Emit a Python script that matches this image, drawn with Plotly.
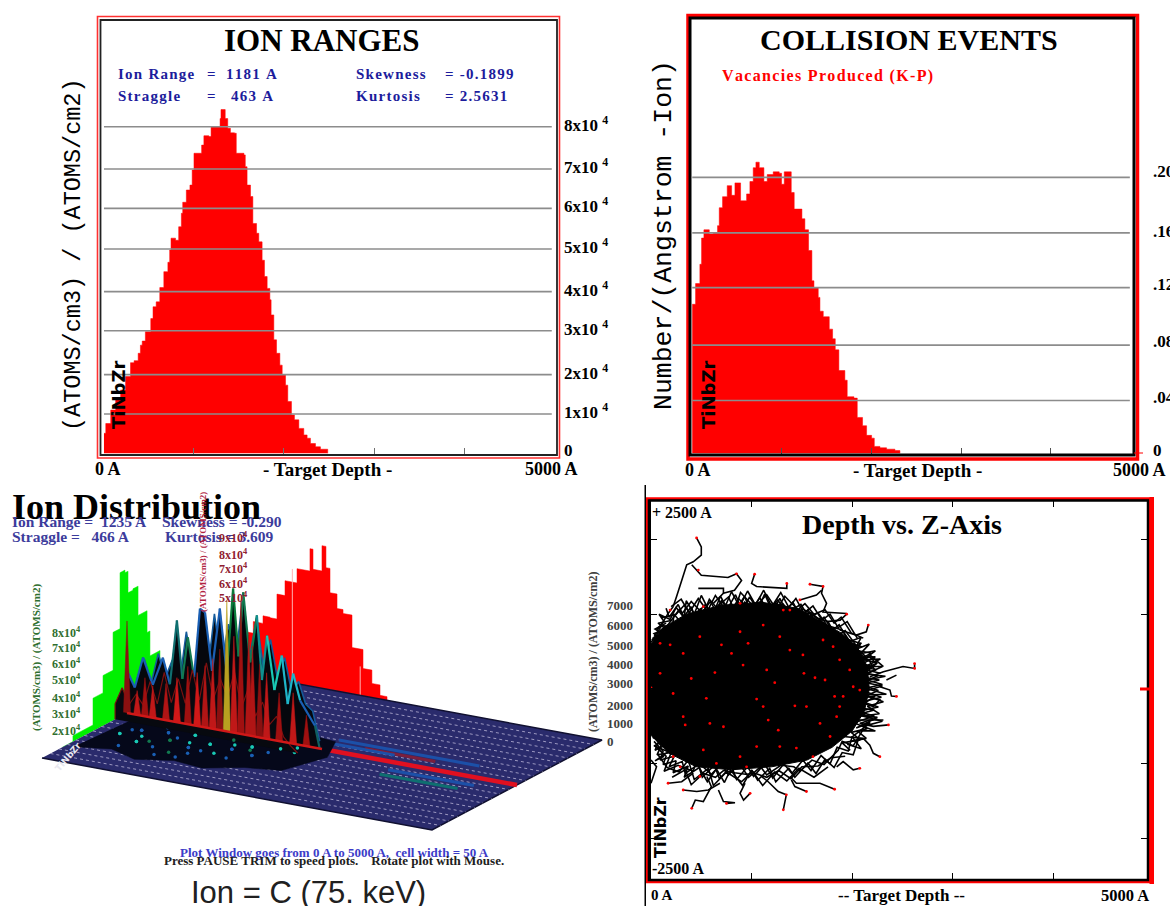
import plotly.graph_objects as go

W, H = 1170, 906
SERIF = "Liberation Serif"

# ---------- panel 1: ion ranges ----------
ion_depth = [0,20,75,130,185,240,295,335,380,405,425,460,520,545,580,620,665,710,730,745,795,830,860,875,915,955,980,1000,1085,1110,1165,1190,1290,1300,1347,1375,1405,1450,1470,1555,1570,1590,1628,1654,1695,1720,1757,1783,1813,1843,1857,1887,1917,1954,1980,2017,2042,2083,2116,2165,2220,2257,2294,2350,2405,2486]
ion_value = [0.49,0.73,1.06,1.35,1.55,1.88,2.22,2.27,2.45,2.65,2.75,2.98,3.3,3.59,3.71,4.06,4.45,4.68,4.98,5.27,5.22,5.55,5.88,6.15,6.45,6.57,6.94,7.35,7.55,7.78,7.76,8.0,8.2,8.42,8.2,7.96,7.85,7.84,7.35,7.31,7.02,6.57,6.29,5.63,5.39,5.18,4.73,4.33,4.04,3.76,3.39,2.78,2.45,2.16,1.92,1.67,1.27,0.94,0.82,0.61,0.45,0.37,0.24,0.16,0.1,0]
ion_grid = [0.963,1.927,3.004,3.96,5.004,6.0,6.963,8.0]
ion_labels = ["1x10", "2x10", "3x10", "4x10", "5x10", "6x10", "7x10", "8x10"]
depth_ticks = [1000, 2000, 3000, 4000]

# ---------- panel 2: collision events ----------
vac_depth = [0,37,85,104,130,190,234,282,301,338,390,439,476,539,606,643,680,710,747,799,836,903,970,996,1026,1104,1137,1223,1256,1297,1334,1357,1405,1424,1461,1528,1565,1595,1635,1702,1728,1803,1840,1899,1944,2000,2030,2093,2167,2260,2316]
vac_value = [.108,.123,.137,.156,.162,.159,.160,.165,.178,.186,.194,.187,.196,.183,.188,.197,.207,.211,.207,.197,.202,.204,.203,.195,.204,.189,.177,.170,.162,.147,.125,.12,.113,.103,.099,.09,.083,.075,.060,.053,.041,.040,.026,.020,.013,.011,.005,.004,.003,.002,0]
vac_grid = [.0383,.0784,.1201,.1598,.2000]
vac_labels = [".04", ".08", ".12", ".16", ".20"]
vac_label_y = [397, 341, 284, 232, 172]

# ---------- panel 3: 3D ion distribution ----------
wall_depth = [300,400,530,654,744,833,936,1090,1256,1295,1410,1461,1513,1603,1680,1795,1936,2050,2154,2244]
wall_value = [1400,2200,2800,3190,3160,4450,5220,5960,7120,6080,7390,6290,5030,4280,4080,2400,1420,730,190,0]
side_z = [-1900,-1590,-1000,-705,-410,-205,-60,30,175,325,590,675,970,1200]
side_value = [0,310,1700,2600,4560,7460,7320,6200,6270,4750,3620,2330,260,0]
sky_depth = [0,100,205,330,460,550,640,710,780,860,935,1000,1090,1190,1280,1360,1430,1490,1580,1665,1730,1795,1890,1985,2060,2130,2220,2410,2470]
sky_value = [2200,1400,3030,1700,3210,1900,5270,2300,4500,2500,6110,5960,3000,6300,3000,7460,4000,7360,3800,6300,3000,5350,2600,4460,2000,3630,2300,1140,0]
sky_color = ["#1a5fb4","#1a5fb4","#1a5fb4","#1a5fb4","#1a5fb4","#0f6f70","#0f6f70","#127a50","#127a50","#1a5fb4","#1a5fb4","#1a5fb4","#1a5fb4","#1a5fb4","#0a7a3a","#0a7a3a","#127a50","#127a50","#127a50","#0f8f90","#0f8f90","#19c9b5","#19c9b5","#1fb5c9","#1fb5c9","#1fb5c9","#1a5fb4","#0f5f60"]
back_depth = [0,90,180,270,360,450,540,630,720,810,900,990,1080,1170,1260,1350,1440,1530,1620,1710,1800,1890,1980,2070,2160,2250,2340]
back_value = [1500,2600,1400,3000,1800,2800,1600,4400,2200,3600,2400,5600,3000,5200,3400,6600,3600,5800,3200,4800,2800,4000,2300,2900,1800,1500,0]
front_value = [800,1700,900,1500,1000,2300,1200,2900,1400,2700,1500,3300,1800,3800,2000,3100,2200,3600,1800,2900,1500,2300,1200,1700,700,300,0]
spike_depth = [0,130,230,330,500,640,780,900,1000,1100,1190,1280,1370,1460,1560,1610,1700,1790,1950,2130,2300]
spike_value = [4770,1260,2000,1660,1900,2310,3000,2770,3200,3630,4200,6780,5000,6900,5200,4680,3800,3420,2500,2640,1600]
spike_color = ["#8a1010","#c01818","#a01010","#c01818","#b01515","#d01818","#a01010","#d01818","#b01515","#c01818","#8a1010","#b8a020","#c01818","#a01010","#b01515","#b01515","#8a1010","#c01818","#a01010","#c01818","#a01010"]
row_z = [-2250,-2000,-1750,-1500,-1250,-1000,-750,-500,-250,250,500,750,1000,1250,1500,1750,2000,2250]
streak_start = [2500,2900,3500,3500,2300]
streak_end = [4300,3800,4500,4600,3300]
streak_z = [500,350,-600,-350,300]
streak_color = ["#1c50a8","#7a1f3d","#0f6f70","#1c50a8","#1c50a8"]
speck_depth = [300,450,600,750,900,1050,1200,1350,1500,1650,1800,1950,2100,400,650,850,1100,1300,1550,1750,1950,2250,2400,500,800,1000,1250,1450,1700,350,560,720,930,1130,1380,1600,1840,2050,2300]
speck_z = [-900,-600,-1100,-500,-800,-400,-950,-650,-300,-700,-450,-800,-300,-200,-300,-1200,-1300,-1200,-1000,-1100,-250,-150,50,-1400,-200,-1500,-1450,-150,-150,-650,-850,-1000,-650,-750,-1000,-500,-600,-550,-350]
speck_color = ["#19c9b5","#1a5fb4","#19c9b5","#1a5fb4","#127a50","#19c9b5","#1a5fb4","#19c9b5","#127a50","#1a5fb4","#19c9b5","#1a5fb4","#19c9b5","#19c9b5","#1a5fb4","#1a5fb4","#127a50","#1a5fb4","#19c9b5","#1a5fb4","#19c9b5","#19c9b5","#1a5fb4","#1a5fb4","#19c9b5","#1a5fb4","#1a5fb4","#127a50","#19c9b5","#1a5fb4","#19c9b5","#127a50","#1a5fb4","#19c9b5","#1a5fb4","#19c9b5","#127a50","#1a5fb4","#19c9b5"]
patch_depth = [100,500,900,1300,1700,2100,2500,2700,2500,2100,1000,200]
patch_z = [-1800,-1600,-1850,-1600,-1700,-1350,-1200,-300,400,500,500,500]

# ---------- panel 4: depth vs z ----------
blob_depth = [0,120,350,700,1100,1450,1700,1900,2050,2150,2170,2120,2000,1800,1550,1200,800,450,180,0]
blob_z = [600,820,1000,1120,1160,1080,900,740,560,300,0,-300,-560,-780,-950,-1040,-1080,-1040,-860,-620]
tracks = [
    [(453,2020),(500,1900),(500,1790),(420,1700),(355,1660),(290,1370),(255,1240),(220,1100)],
    [(405,1660),(455,1590),(500,1520),(765,1490),(850,1540),(900,1450),(830,1320),(720,1280),(620,1145)],
    [(470,1345),(720,1345),(720,1280)],
    [(1030,1535),(1000,1410),(1050,1370),(1350,1345),(1350,1410)],
    [(1580,1400),(1710,1370),(1695,1280),(1745,1145),(1710,1030),(1945,1010)],
    [(1480,1190),(1645,1255),(1695,1320)],
    [(2160,855),(2140,765),(2040,720),(1875,790)],
    [(1945,1000),(1880,920),(1745,900)],
    [(2620,340),(2620,275),(2505,300),(2310,230),(2175,165)],
    [(2440,-100),(2390,-95),(2375,-15),(2275,30)],
    [(2440,185),(2340,120)],
    [(2360,-480),(2210,-500),(2075,-460),(2175,-415),(2310,-415)],
    [(2275,-905),(2210,-860),(2175,-750),(2110,-660),(1910,-635)],
    [(1825,-1340),(1680,-1260),(1445,-1260),(1380,-1170)],
    [(2075,-1060),(2010,-1080),(1910,-970),(1845,-1040)],
    [(1545,-1370),(1430,-1305),(1395,-1215)],
    [(1315,-1615),(1345,-1415),(1265,-1370),(1165,-1240),(1100,-1170)],
    [(985,-1395),(920,-1485),(885,-1395),(935,-1260)],
    [(750,-1530),(835,-1520),(720,-1505),(670,-1350)],
    [(405,-1595),(440,-1485),(520,-1505),(600,-1305),(555,-1170)],
    [(320,-1350),(455,-1370),(570,-1350),(685,-1260)],
    [(170,-1260),(305,-1240),(420,-1125)],
    [(0,-1260),(55,-1040),(0,-950)],
    [(220,1100),(170,1010),(90,830),(55,790)],
    [(5,655),(105,700),(190,790)],
    [(2040,120),(2240,340),(2175,430),(2010,365)],
    [(2310,300),(2175,455)],
    [(2075,-60),(2275,-145),(2210,-235),(2110,-190)],
    [(2140,-325),(2010,-415),(2210,-415)],
    [(200,1100),(300,1200),(380,1020),(470,1210),(560,1040),(640,1250),(730,1080),(800,1300),(880,1100),(960,1310),(1040,1120),(1120,1320),(1200,1100),(1290,1290),(1370,1090),(1440,1210),(1520,1010),(1610,1110),(1700,920),(1780,1000),(1860,820),(1950,900),(2050,680)],
    [(100,950),(250,1000),(330,1120),(420,960),(540,1130),(610,980),(700,1180),(790,1020),(870,1210),(990,1040),(1080,1220),(1170,1040),(1260,1190),(1350,1020),(1490,1130),(1570,950),(1660,1020),(1750,850),(1900,790),(1990,610),(2100,560)],
    [(0,620),(90,780),(170,860),(280,1060),(370,900),(490,1070),(600,930),(680,1120),(850,980),(930,1160),(1110,1000),(1240,1150),(1430,980),(1590,1020),(1830,750),(2000,540),(2170,380),(2230,240)],
    [(2060,520),(2130,440),(2040,360),(2200,300),(2090,220),(2260,180),(2110,90),(2300,40),(2120,-30),(2290,-110),(2100,-170),(2260,-240),(2060,-300),(2220,-360),(2020,-450),(2150,-530),(1990,-580),(2080,-680),(1900,-720),(1980,-820)],
    [(1960,660),(2080,610),(2010,520),(2190,480),(2080,400),(2250,350),(2120,260),(2280,210)],
    [(30,-700),(120,-830),(90,-950),(230,-900),(180,-1040),(310,-970),(340,-1130),(470,-1010),(510,-1180),(630,-1020),(680,-1200),(800,-1030),(850,-1210),(960,-1040),(1020,-1170),(1130,-1000),(1210,-1190),(1320,-1000),(1400,-1130),(1510,-950),(1590,-1090),(1690,-890),(1780,-1000),(1850,-780),(1960,-830),(2000,-630)],
    [(70,-880),(160,-1050),(280,-1110),(370,-950),(430,-1210),(570,-1060),(620,-1290),(750,-1110),(900,-1240),(1010,-1100),(1110,-1290),(1230,-1110),(1350,-1230),(1470,-1060),(1620,-1180),(1760,-1040)],
    [(0,-520),(80,-690),(40,-820),(140,-750),(70,-600),(180,-800)],
    [(0,560),(110,640),(30,740),(150,800),(70,880),(210,920)],
    [(60,800),(130,900),(80,1000),(190,930),(250,1090),(330,950),(350,1180),(430,1000),(500,1250),(560,1090),(620,1010),(690,1240),(760,1070),(840,1260),(910,1040),(980,1230),(1060,1060),(1130,1270),(1210,1020),(1280,1210),(1340,1050),(1410,1160),(1490,960),(1560,1060),(1640,870),(1720,960),(1800,780),(1870,860),(1960,650)],
    [(30,700),(110,850),(210,820),(230,1000),(290,900),(400,1100),(450,920),(590,1170),(660,1000),(740,1130),(820,1000),(930,1240),(1000,1000),(1090,1160),(1190,1010),(1310,1140),(1400,1000),(1510,1070),(1650,950),(1760,900),(1840,700),(1930,780),(2030,600)],
    [(150,1080),(180,960),(270,1130),(310,1010),(400,1170),(520,1000),(580,1200),(650,1090),(770,1230),(830,1050),(890,1290),(1030,1090),(1150,1260),(1250,1060),(1330,1240),(1460,1060),(1530,1140),(1620,1000),(1730,1060),(1820,880),(1890,960),(1990,750),(2110,680)],
    [(40,-760),(150,-900),(120,-1010),(250,-960),(220,-1120),(370,-1030),(330,-1180),(480,-1050),(560,-1240),(650,-1070),(730,-1250),(790,-1080),(910,-1290),(1000,-1080),(1060,-1220),(1180,-1060),(1240,-1240),(1370,-1060),(1430,-1180),(1560,-990),(1640,-1130),(1730,-940),(1820,-1050),(1900,-850),(2010,-880),(2060,-680)],
    [(20,-620),(100,-760),(60,-880),(200,-850),(130,-1100),(270,-1020),(420,-1100),(450,-960),(600,-1140),(700,-1000),(770,-1150),(880,-1000),(970,-1180),(1090,-1040),(1150,-1150),(1290,-1020),(1420,-1040),(1480,-1100),(1600,-950),(1720,-1010),(1860,-820),(1900,-700),(2010,-760),(2100,-560)],
    [(210,-1180),(340,-1080),(400,-1280),(520,-1130),(640,-1180),(720,-1090),(830,-1120),(940,-1140),(1040,-1130),(1150,-1180),(1270,-1090),(1390,-1200),(1500,-1040),(1660,-1030),(1790,-920),(1930,-900)],
    [(1950,620),(2090,690),(2020,520),(2170,600),(2080,470),(2230,510),(2110,390),(2280,400),(2130,300),(2300,300),(2140,200),(2330,170),(2150,120),(2300,60),(2130,10),(2340,-70),(2120,-80),(2310,-170),(2150,-230),(2270,-330),(2100,-360),(2300,-430),(2110,-500),(2230,-560),(2050,-560),(2140,-660),(1980,-700)],
    [(2090,620),(2000,420),(2230,430),(2050,300),(2240,260),(2070,170),(2270,120),(2080,60),(2260,-20),(2070,-130),(2230,-90),(2060,-250),(2220,-280),(2030,-350),(2250,-380),(2040,-520),(2180,-450),(2000,-640),(2090,-800),(1950,-740)],
    [(0,500),(70,620),(20,680),(110,740),(40,800),(150,880)],
    [(0,-420),(90,-560),(20,-650),(130,-690),(30,-760),(170,-840),(40,-960),(130,-900)],
]
dot_depth = [90,400,320,550,635,800,915,965,1150,1230,1050,1115,1165,1265,1430,1520,1630,1730,1825,1875,1680,1545,1510,1380,1280,1115,885,700,485,320,220,720,585,340,520,885,1050,1280,1445,1610,1780,1845,1910,2010,2075,1710,1810,1875,1975,1380,1315,885,520,190,190,90,220,290,485,650,950,985,1345,1545,1825,2075,2275,2360,2440,2620,2620,2160,1945,1710,1580,1350,1030,850,453,470,0,405,1315,750,320,170,1480]
dot_z = [210,140,-370,-125,220,475,320,610,255,85,-135,-235,-415,-550,-225,210,150,120,-100,-235,-460,-235,455,520,700,855,765,590,700,475,-60,-505,-460,-480,-815,-905,-770,-770,-790,-905,-635,-370,-100,30,-15,655,565,390,255,1055,1055,1145,1100,1055,590,610,-905,-1040,-1170,-995,-1040,-1395,-1415,-1370,-1340,-1060,-905,-480,-100,340,275,855,1000,1370,1400,1410,1535,1540,2020,1590,15,-1595,-1615,-1530,-1350,-1260,1190]
z_ticks = [-2000, -1000, 0, 1000, 2000]


def fx(p):
    return p / W


def fy(p):
    return 1 - p / H


def xdom(a, b):
    return [fx(a), fx(b)]


def ydom(top, bottom):
    return [fy(bottom), fy(top)]


def wide(text):
    return "\u200a".join(text)


def note(x, y, text, size=14, color="black", family=SERIF, anchor="left", angle=0, bold=True):
    t = f"<b>{text}</b>" if bold else text
    return dict(x=fx(x), y=fy(y), xref="paper", yref="paper", text=t, showarrow=False,
                xanchor=anchor, yanchor="middle", textangle=angle,
                font=dict(family=family, size=size, color=color), borderpad=0, borderwidth=0)


def rect(x0, y0, x1, y1, color, width):
    return dict(type="rect", xref="paper", yref="paper", x0=fx(x0), x1=fx(x1), y0=fy(y0), y1=fy(y1),
                line=dict(color=color, width=width), fillcolor="rgba(0,0,0,0)", layer="above")


def bar(x0, y0, x1, y1, color):
    return dict(type="rect", xref="paper", yref="paper", x0=fx(x0), x1=fx(x1), y0=fy(y0), y1=fy(y1),
                line=dict(width=0), fillcolor=color, layer="above")


fig = go.Figure()
GRID = "#8c8c8c"


def hline_trace(values, x0, x1, xa, ya):
    xs, ys = [], []
    for v in values:
        xs += [x0, x1, None]
        ys += [v, v, None]
    return go.Scatter(x=xs, y=ys, mode="lines", line=dict(color=GRID, width=1.6), xaxis=xa, yaxis=ya, hoverinfo="skip")


# panel 1
fig.add_trace(go.Scatter(x=ion_depth, y=ion_value, mode="lines", line=dict(color="#ff0000", width=0.5, shape="hv"),
                         fill="tozeroy", fillcolor="#ff0000", xaxis="x", yaxis="y"))
fig.add_trace(hline_trace(ion_grid, 0, 4975, "x", "y"))
# panel 2
fig.add_trace(go.Scatter(x=vac_depth, y=vac_value, mode="lines", line=dict(color="#ff0000", width=0.5, shape="hv"),
                         fill="tozeroy", fillcolor="#ff0000", xaxis="x2", yaxis="y2"))
fig.add_trace(hline_trace(vac_grid, 0, 4880, "x2", "y2"))


# panel 3: affine projection of (depth, lateral, height) into the panel's axis
def proj(d, z, h=0.0):
    u = d / 5000.0
    v = (z + 2500) / 5000.0
    return 42 + 390 * u + 170 * v, 758 + 72 * u - 90 * v - h * 0.0193


def poly(points, fill, line=None, width=0.5):
    xs = [p[0] for p in points]
    ys = [p[1] for p in points]
    fig.add_trace(go.Scatter(x=xs, y=ys, mode="lines", fill="toself", fillcolor=fill,
                             line=dict(color=line or fill, width=width), xaxis="x3", yaxis="y3", hoverinfo="skip"))


def path(points, color, width=1.0, dash="solid"):
    xs = [p[0] for p in points]
    ys = [p[1] for p in points]
    fig.add_trace(go.Scatter(x=xs, y=ys, mode="lines", line=dict(color=color, width=width, dash=dash),
                             xaxis="x3", yaxis="y3", hoverinfo="skip"))


# back (red) wall
pts = [proj(wall_depth[0], 2500, 0)]
for i in range(len(wall_depth) - 1):
    pts.append(proj(wall_depth[i], 2500, wall_value[i]))
    pts.append(proj(wall_depth[i + 1], 2500, wall_value[i]))
pts.append(proj(wall_depth[-1], 2500, 0))
poly(pts, "#ff0000")
path([proj(1030, 2500, 0), proj(1030, 2500, 5900)], "#ffb0b0", 1)
path([proj(1900, 2500, 0), proj(1900, 2500, 1500)], "#ffb0b0", 1)

# side (green) wall
pts = [proj(0, side_z[0], 0)]
for i in range(len(side_z) - 1):
    pts.append(proj(0, side_z[i], side_value[i]))
    pts.append(proj(0, side_z[i + 1], side_value[i]))
pts.append(proj(0, side_z[-1], 0))
poly(pts, "#00f000")

# floor
poly([proj(0, -2500), proj(5000, -2500), proj(5000, 2500), proj(0, 2500)], "#2a2b6c", "#101030", 1.5)
for z in row_z:
    path([proj(0, z), proj(5000, z)], "#b9b4d6", 0.8, "dot")
for a, b, z, c in zip(streak_start, streak_end, streak_z, streak_color):
    path([proj(a, z), proj(b, z)], c, 3)
path([proj(0, 0), proj(2400, 0)], "#d01818", 2.5)
path([proj(2400, 0), proj(5000, 0)], "#e01020", 4.5)
# dark patch under the ridges
poly([proj(d, z) for d, z in zip(patch_depth, patch_z)], "#05081a")
xy = [proj(d, z) for d, z in zip(speck_depth, speck_z)]
fig.add_trace(go.Scatter(x=[p[0] for p in xy], y=[p[1] for p in xy], mode="markers",
                         marker=dict(size=3.5, color=speck_color), xaxis="x3", yaxis="y3", hoverinfo="skip"))

# row behind the central one
pts = [proj(back_depth[0], 300, 0)] + [proj(d, 300, h) for d, h in zip(back_depth, back_value)] + [proj(back_depth[-1], 300, 0)]
poly(pts, "#05070d", "#145a9a", 1.6)
# black body of the central ridge and coloured crests
pts = [proj(sky_depth[0], 0, 0)] + [proj(d, 0, h) for d, h in zip(sky_depth, sky_value)] + [proj(sky_depth[-1], 0, 0)]
poly(pts, "#05070d")
for i in range(len(sky_depth) - 1):
    path([proj(sky_depth[i], 0, sky_value[i]), proj(sky_depth[i + 1], 0, sky_value[i + 1])], sky_color[i], 2.2)
# low row in front
pts = [proj(back_depth[0], -350, 0)] + [proj(d, -350, h) for d, h in zip(back_depth, front_value)] + [proj(back_depth[-1], -350, 0)]
poly(pts, "#07090f", "#7a1010", 1.2)
# red spikes
for d, h, c in zip(spike_depth, spike_value, spike_color):
    poly([proj(d - 45, 0), proj(d, 0, h), proj(d + 45, 0)], c)
path([proj(0, 0), proj(2500, 0)], "#d01818", 2.5)
xy = [proj(d, z) for d, z in zip(speck_depth[:13], speck_z[:13])]
fig.add_trace(go.Scatter(x=[p[0] for p in xy], y=[p[1] for p in xy], mode="markers",
                         marker=dict(size=3.5, color=speck_color[:13]), xaxis="x3", yaxis="y3", hoverinfo="skip"))

# panel 4
fig.add_trace(go.Scatter(x=blob_depth, y=blob_z, mode="lines", fill="toself", fillcolor="black",
                         line=dict(color="black", width=1), xaxis="x4", yaxis="y4", hoverinfo="skip"))
tx, ty = [], []
for tr in tracks:
    tx += [p[0] for p in tr] + [None]
    ty += [p[1] for p in tr] + [None]
fig.add_trace(go.Scatter(x=tx, y=ty, mode="lines", line=dict(color="black", width=1.6), xaxis="x4", yaxis="y4", hoverinfo="skip"))
fig.add_trace(go.Scatter(x=dot_depth, y=dot_z, mode="markers", marker=dict(color="#ff0000", size=2.8), xaxis="x4", yaxis="y4", hoverinfo="skip"))


def ann_list():
    a = []
    INFO = "#1c1c9c"
    # panel 1
    a.append(note(322, 40, "ION RANGES", 31, anchor="center"))
    a += [note(118, 74, wide("Ion Range"), 15, INFO), note(207, 74, "=", 15, INFO), note(226, 74, wide("1181 A"), 15, INFO),
          note(118, 96, wide("Straggle"), 15, INFO), note(207, 96, "=", 15, INFO), note(231, 96, wide("463 A"), 15, INFO),
          note(356, 74, wide("Skewness"), 15, INFO), note(445, 74, wide("= -0.1899"), 15, INFO),
          note(356, 96, wide("Kurtosis"), 15, INFO), note(445, 96, wide("= 2.5631"), 15, INFO)]
    for v, lab in zip(ion_grid, ion_labels):
        a.append(note(564, 453.3 - 40.83 * v - 3, lab + " <sup>4</sup>", 17))
    a.append(note(564, 450, "0", 17))
    a.append(note(73, 255, "(ATOMS/cm3) / (ATOMS/cm2)", 23.5, family="Liberation Mono", anchor="center", angle=-90, bold=False))
    a.append(note(118, 395, "TiNbZr", 18, family="DejaVu Sans", anchor="center", angle=-90))
    a += [note(95, 469, "0 A", 18), note(327, 469, "- Target Depth -", 19, anchor="center"), note(525, 469, "5000 A", 18)]
    # panel 2
    a.append(note(909, 39, "COLLISION EVENTS", 30, anchor="center"))
    a.append(note(722, 76, wide("Vacancies Produced (K-P)"), 16, "#ff0000"))
    for y, lab in zip(vac_label_y, vac_labels):
        a.append(note(1153, y, lab, 17))
    a.append(note(1153, 450, "0", 17))
    a.append(note(664, 235, "Number/(Angstrom -Ion)", 26.5, family="Liberation Mono", anchor="center", angle=-90, bold=False))
    a.append(note(708, 395, "TiNbZr", 18, family="DejaVu Sans", anchor="center", angle=-90))
    a += [note(685, 470, "0 A", 18), note(917, 470, "- Target Depth -", 19, anchor="center"), note(1113, 470, "5000 A", 18)]
    # panel 3
    a.append(note(12, 507, "Ion Distribution", 36))
    a += [note(12, 521, "Ion Range =  1235 A", 15.5, "#3c3c9c"), note(162, 521, "Skewness = -0.290", 15.5, "#3c3c9c"),
          note(12, 536, "Straggle =   466 A", 15.5, "#3c3c9c"), note(165, 536, "Kurtosis = 3.609", 15.5, "#3c3c9c")]
    for y, lab in zip([632, 647, 663, 679, 697, 713, 730], ["8", "7", "6", "5", "4", "3", "2"]):
        a.append(note(52, y, lab + "x10<sup>4</sup>", 12, "#2f6f2f"))
    a.append(note(36, 658, "(ATOMS/cm3) / (ATOMS/cm2)", 11, "#2f6f2f", anchor="center", angle=-90))
    a.append(note(203, 552, "(ATOMS/cm3) / (ATOMS/cm2)", 9, "#b02040", anchor="center", angle=-90))
    for y, lab in zip([537, 554, 568, 583, 597], ["9", "8", "7", "6", "5"]):
        a.append(note(219, y, lab + "x10<sup>4</sup>", 12, "#902030"))
    a.append(note(593, 652, "(ATOMS/cm3) / (ATOMS/cm2)", 12, "#404040", anchor="center", angle=-90))
    for y, lab in zip([605, 625, 645, 664, 683, 705, 723, 741], ["7000", "6000", "5000", "4000", "3000", "2000", "1000", "0"]):
        a.append(note(607, y, lab, 13, "#404040"))
    a.append(note(68, 757, "TiNbZr", 9, "#e8e8f0", family="DejaVu Sans", anchor="center", angle=-50))
    a.append(note(334, 852, "Plot Window goes from 0 A to 5000 A,  cell width = 50 A", 13, "#3c3cc8", anchor="center"))
    a.append(note(334, 860, "Press PAUSE TRIM to speed plots.    Rotate plot with Mouse.", 13, "#202020", anchor="center"))
    a.append(note(308, 892, "Ion = C (75. keV)", 31, "#202020", family="Liberation Sans", anchor="center", bold=False))
    # panel 4
    a.append(note(902, 524, "Depth vs. Z-Axis", 28, anchor="center"))
    a += [note(652, 512, "+ 2500 A", 16), note(652, 868, "-2500 A", 16)]
    a.append(note(660, 828, "TiNbZr", 16, family="DejaVu Sans", anchor="center", angle=-90))
    a += [note(651, 895, "0 A", 15), note(901, 895, "-- Target Depth --", 17, anchor="center"), note(1101, 895, "5000 A", 16.5)]
    return a


hidden = dict(visible=False, fixedrange=True)
layout = dict(
    width=W, height=H, margin=dict(l=0, r=0, t=0, b=0, pad=0), paper_bgcolor="white", plot_bgcolor="rgba(0,0,0,0)",
    showlegend=False, hovermode=False,
    xaxis=dict(domain=xdom(101, 556), range=[-33, 5022], showgrid=False, zeroline=False, tickvals=depth_ticks,
               showticklabels=False, ticks="inside", ticklen=6, tickcolor="#707070", anchor="y"),
    yaxis=dict(domain=ydom(21, 454), range=[-0.017, 10.59], showgrid=False, zeroline=False, showticklabels=False, ticks="", anchor="x"),
    xaxis2=dict(domain=xdom(691, 1132), range=[-14, 4904], showgrid=False, zeroline=False, tickvals=depth_ticks,
                showticklabels=False, ticks="inside", ticklen=6, tickcolor="#505050", anchor="y2"),
    yaxis2=dict(domain=ydom(18, 454), range=[-0.0005, 0.3155], showgrid=False, zeroline=False, showticklabels=False, ticks="", anchor="x2"),
    xaxis3=dict(domain=xdom(0, 640), range=[0, 640], anchor="y3", **hidden),
    yaxis3=dict(domain=ydom(480, 906), range=[906, 480], anchor="x3", **hidden),
    xaxis4=dict(domain=xdom(651, 1147), range=[0, 4930], showgrid=False, zeroline=False, tickvals=depth_ticks,
                showticklabels=False, ticks="inside", ticklen=6, tickcolor="black", anchor="y4",
                showline=True, linecolor="black", linewidth=2, mirror="ticks"),
    yaxis4=dict(domain=ydom(501, 879), range=[-2540, 2513], showgrid=False, zeroline=False, tickvals=z_ticks,
                showticklabels=False, ticks="inside", ticklen=6, tickcolor="black", anchor="x4",
                showline=True, linecolor="black", linewidth=2, mirror="ticks"),
    annotations=ann_list(),
    shapes=[
        rect(97.5, 16.5, 559.5, 458, "#ff3030", 1.6), rect(100.5, 20, 557, 455, "#222222", 1.8),
        rect(688, 15.5, 1137.5, 459, "#ff0000", 3.5), rect(690, 18, 1134, 455, "black", 3),
        bar(1134, 452.5, 1143, 453.5, "#ff0000"),
        rect(647, 498.5, 1150, 882, "#ff0000", 2.5), rect(649, 500.5, 1148, 880, "black", 2.5),
        bar(1149.5, 497, 1154, 884, "#ff0000"), bar(1140, 687.5, 1150, 690.5, "#ff0000"),
        bar(644.5, 485, 646, 906, "black"),
    ],
)
fig.update_layout(**layout)
fig.write_html("out.html", post_script="document.body.style.margin='0';document.body.style.overflow='hidden';",
               config=dict(displayModeBar=False))
